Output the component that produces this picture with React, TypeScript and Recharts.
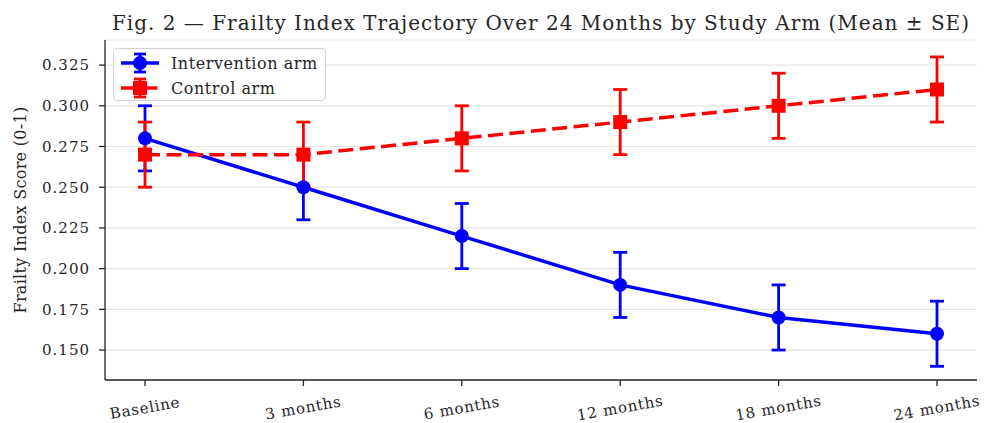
import { LineChart, Line, XAxis, YAxis, CartesianGrid, ErrorBar } from "recharts";

// study visits and arm summaries (mean ± SE)
const visits = ["Baseline", "3 months", "6 months", "12 months", "18 months", "24 months"];
const interventionMean = [0.28, 0.25, 0.22, 0.19, 0.17, 0.16];
const interventionSE = [0.02, 0.02, 0.02, 0.02, 0.02, 0.02];
const controlMean = [0.27, 0.27, 0.28, 0.29, 0.3, 0.31];
const controlSE = [0.02, 0.02, 0.02, 0.02, 0.02, 0.02];
const yTicks = [0.15, 0.175, 0.2, 0.225, 0.25, 0.275, 0.3, 0.325];

const FONT = "'DejaVu Serif', serif";
const INK = "#262626";
const BLUE = "#0000ff";
const RED = "#ff0000";
const DASH = "15 6.5";

const data = visits.map((v, i) => ({
  visit: v,
  intervention: interventionMean[i],
  interventionErr: interventionSE[i],
  control: controlMean[i],
  controlErr: controlSE[i],
}));

function VisitTick(props: any) {
  const { x, y, payload } = props;
  const cy = y + 20;
  return (
    <text
      x={x}
      y={cy}
      textAnchor="middle"
      dominantBaseline="central"
      transform={`rotate(-10, ${x}, ${cy})`}
      fontFamily={FONT}
      fontSize={15}
      letterSpacing={0.8}
      fill={INK}
    >
      {payload.value}
    </text>
  );
}

function LegendIcon({ color, square, dashed }: { color: string; square?: boolean; dashed?: boolean }) {
  return (
    <svg width={40} height={22} style={{ display: "block" }}>
      <line x1={1} x2={39} y1={11} y2={11} stroke={color} strokeWidth={3.5} strokeDasharray={dashed ? DASH : undefined} />
      <line x1={20} x2={20} y1={2} y2={20} stroke={color} strokeWidth={2.8} />
      <line x1={14} x2={26} y1={2} y2={2} stroke={color} strokeWidth={2.8} />
      <line x1={14} x2={26} y1={20} y2={20} stroke={color} strokeWidth={2.8} />
      {square ? <rect x={13} y={4} width={14} height={14} fill={color} /> : <circle cx={20} cy={11} r={7} fill={color} />}
    </svg>
  );
}

function ArmLegend() {
  const rows = [
    { label: "Intervention arm", color: BLUE, square: false, dashed: false },
    { label: "Control arm", color: RED, square: true, dashed: true },
  ];
  return (
    <div
      style={{
        position: "absolute",
        left: 113,
        top: 48,
        width: 211,
        height: 51,
        boxSizing: "content-box",
        border: "1px solid #d4d4d4",
        borderRadius: 4,
        background: "rgba(255,255,255,0.8)",
        fontFamily: FONT,
        fontSize: 16,
        letterSpacing: 0.55,
        color: INK,
      }}
    >
      {rows.map((r, i) => (
        <div
          key={r.label}
          style={{ position: "absolute", left: 6, top: 3 + i * 25, display: "flex", alignItems: "center", height: 22, whiteSpace: "nowrap" }}
        >
          <LegendIcon color={r.color} square={r.square} dashed={r.dashed} />
          <span style={{ marginLeft: 11 }}>{r.label}</span>
        </div>
      ))}
    </div>
  );
}

export default function App() {
  return (
    <div style={{ position: "absolute", left: 0, top: 0, width: 984, height: 423, background: "#fff" }}>
      <div
        style={{
          position: "absolute",
          left: 105,
          width: 872,
          top: 12,
          textAlign: "center",
          fontFamily: FONT,
          fontSize: 20,
          letterSpacing: 1,
          lineHeight: "23px",
          color: INK,
          whiteSpace: "nowrap",
        }}
      >
        Fig. 2 — Frailty Index Trajectory Over 24 Months by Study Arm (Mean ± SE)
      </div>
      <LineChart width={984} height={423} data={data} margin={{ top: 40, right: 7, bottom: 0, left: 0 }}>
        <CartesianGrid vertical={false} stroke="#e6e6e6" strokeWidth={1.2} />
        <XAxis
          dataKey="visit"
          padding={{ left: 40, right: 40 }}
          tick={<VisitTick />}
          tickSize={6}
          height={43}
          interval={0}
          axisLine={{ stroke: INK, strokeWidth: 1.3 }}
          tickLine={{ stroke: INK, strokeWidth: 1.3 }}
        />
        <YAxis
          width={105}
          domain={[0.1316, 0.3404]}
          ticks={yTicks}
          allowDataOverflow
          tickFormatter={(v: number) => v.toFixed(3)}
          tickSize={6}
          tickMargin={9}
          tick={{ fontFamily: FONT, fontSize: 15, letterSpacing: 1, fill: INK }}
          axisLine={{ stroke: INK, strokeWidth: 1.3 }}
          tickLine={{ stroke: INK, strokeWidth: 1.3 }}
          label={{
            value: "Frailty Index Score (0-1)",
            angle: -90,
            position: "insideLeft",
            offset: 20,
            style: { textAnchor: "middle", fontFamily: FONT, fontSize: 16, letterSpacing: 0.3, fill: INK },
          }}
        />
        <Line
          dataKey="intervention"
          stroke={BLUE}
          strokeWidth={3.5}
          isAnimationActive={false}
          dot={{ r: 7, fill: BLUE, stroke: BLUE, strokeWidth: 0 }}
          activeDot={false}
        >
          <ErrorBar dataKey="interventionErr" direction="y" width={7} stroke={BLUE} strokeWidth={2.8} isAnimationActive={false} />
        </Line>
        <Line
          dataKey="control"
          stroke={RED}
          strokeWidth={3.5}
          strokeDasharray={DASH}
          isAnimationActive={false}
          dot={(p: any) => (
            <rect key={`sq-${p.index}`} x={p.cx - 7} y={p.cy - 7} width={14} height={14} fill={RED} />
          )}
          activeDot={false}
        >
          <ErrorBar dataKey="controlErr" direction="y" width={7} stroke={RED} strokeWidth={2.8} isAnimationActive={false} />
        </Line>
      </LineChart>
      <ArmLegend />
    </div>
  );
}
